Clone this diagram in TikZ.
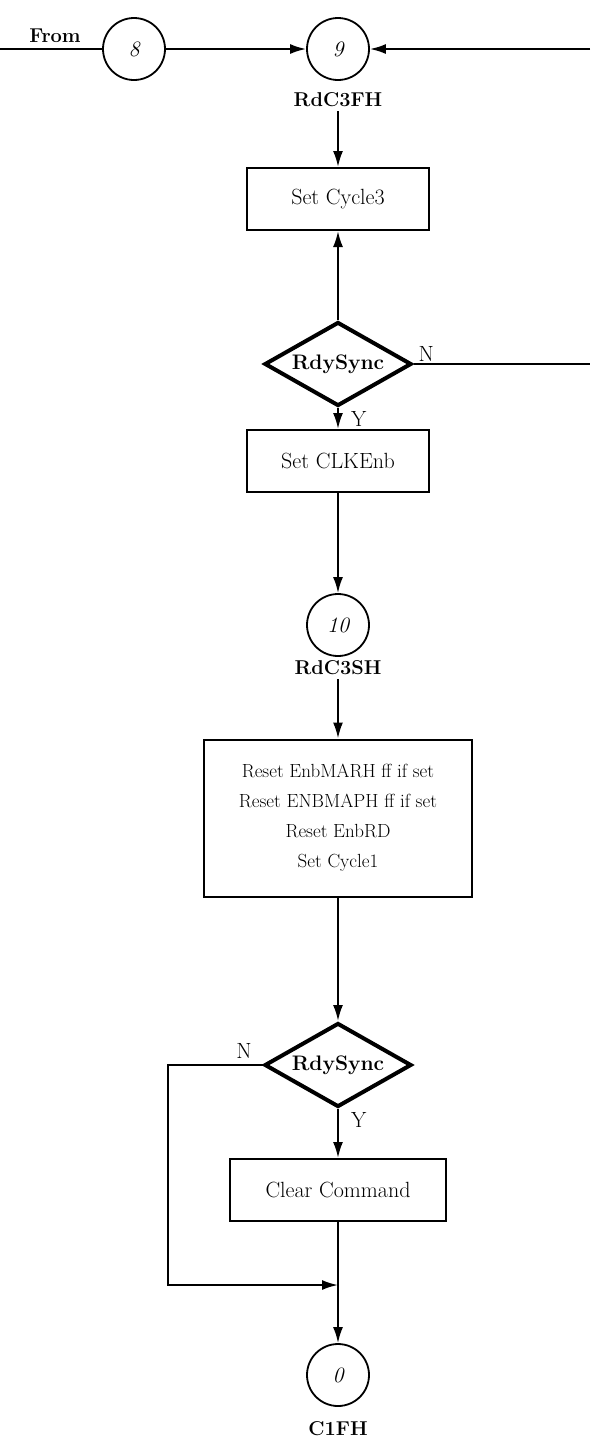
\documentclass[tikz,border=0pt]{standalone}
\usepackage{tikz}
\usetikzlibrary{shapes.geometric,arrows.meta}

\begin{document}
\begin{tikzpicture}[x=1pt, y=-1pt, line width=2pt,
        every node/.style={font=\fontsize{22}{26}\selectfont},
        procbox/.style={draw, rectangle, line width=2pt, minimum width=182pt, minimum height=62pt},
        testbox/.style={draw, diamond, line width=4pt, aspect=1.75, inner sep=0pt,
            minimum width=147pt, minimum height=84pt, font=\fontsize{21}{25}\selectfont\bfseries},
        connbox/.style={draw, circle, line width=1.8pt, minimum size=62pt,
            font=\fontsize{22}{26}\selectfont\itshape},
        tag/.style={font=\fontsize{20}{24}\selectfont\bfseries},
        flow/.style={-{Latex[length=16pt,width=10pt]}}]
        \useasboundingbox (0,0) rectangle (590,1441);

        % entry
        \coordinate (west) at (0,49);
        \coordinate (east) at (590,49);
        \node[tag] (from) at (55,36) {From};
        \node[connbox] (c8) at (134,49) {8};
        \node[connbox] (c9) at (338,49) {9};
        \node[tag] (l9) at (338,100) {RdC3FH};
        \draw (west) -- (c8);
        \draw[flow] (c8) -- (c9);
        \draw[flow] (east) -- (c9);

        % cycle 3
        \node[procbox] (cyc3) at (338,199) {Set Cycle3};
        \node[testbox] (sync1) at (338,364) {RdySync};
        \node[procbox] (clk) at (338,461) {Set CLKEnb};
        \coordinate (east1) at (590,364);
        \draw[flow] (l9) -- (cyc3);
        \draw[flow] (sync1) -- (cyc3);
        \draw (sync1.east) -- (east1);
        \node[anchor=south west, inner sep=2pt, xshift=2pt] at (sync1.east) {N};
        \draw[flow] (sync1) -- (clk);
        \node[anchor=north west, inner sep=2pt, xshift=10pt] at (sync1.south) {Y};

        \node[connbox] (c10) at (338,625) {10};
        \node[tag] (l10) at (338,668) {RdC3SH};
        \draw[flow] (clk) -- (c10);

        % cycle 1
        \node[procbox, minimum width=268pt, minimum height=157pt, align=center,
            font=\fontsize{19}{30}\selectfont] (reset) at (338,818)
            {Reset EnbMARH ff if set\\ Reset ENBMAPH ff if set\\ Reset EnbRD\\ Set Cycle1};
        \draw[flow] (l10) -- (reset);

        \node[testbox] (sync2) at (338,1065) {RdySync};
        \node[procbox, minimum width=216pt] (clr) at (338,1190) {Clear Command};
        \draw[flow] (reset) -- (sync2);
        \draw[flow] (sync2) -- (clr);
        \node[anchor=south east, inner sep=2pt, xshift=-8pt, yshift=4pt] at (sync2.west) {N};
        \node[anchor=north west, inner sep=2pt, xshift=10pt] at (sync2.south) {Y};

        \node[connbox] (c0) at (338,1375) {0};
        \node[tag] (l0) at (338,1429) {C1FH};
        \coordinate (bend) at (168,1285);
        \coordinate (join) at (338,1285);
        \draw[flow] (clr) -- (c0);
        \draw[flow] (sync2.west) -| (bend) -- (join);
\end{tikzpicture}
\end{document}
